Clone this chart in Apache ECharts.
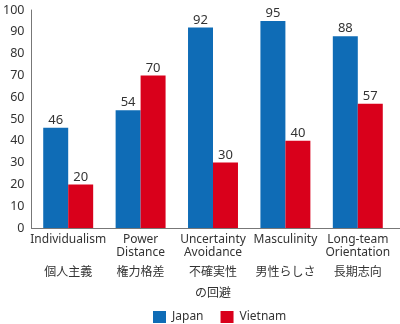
<!DOCTYPE html>
<html><head><meta charset="utf-8">
<script src="https://cdn.jsdelivr.net/npm/echarts@6/dist/echarts.min.js"></script>
<style>html,body{margin:0;padding:0;background:#fff}#c{width:400px;height:324px}</style>
</head><body><div id="c"></div>
<script>
const categoriesEn = [["Individualism", " "], ["Power", "Distance"], ["Uncertainty", "Avoidance"], ["Masculinity", " "], ["Long-team", "Orientation"]];
const categoriesJa = [["個人主義"], ["権力格差"], ["不確実性", "の回避"], ["男性らしさ"], ["長期志向"]];
const japan = [46, 54, 92, 95, 88];
const vietnam = [20, 70, 30, 40, 57];
const yTicks = [0, 10, 20, 30, 40, 50, 60, 70, 80, 90, 100];

const FONT = '"Noto Sans","Noto Sans CJK JP",sans-serif';
const JFONT = '"Noto Sans CJK JP",sans-serif';
const cats = categoriesEn.map((e, i) => i);
function catLabel(i) {
  const en = categoriesEn[i], ja = categoriesJa[i];
  let s = '{e|' + en[0] + '}\n{e|' + en[1] + '}\n{j|' + ja[0] + '}';
  if (ja[1]) s += '\n{j2|' + ja[1] + '}';
  return s;
}
const chart = echarts.init(document.getElementById('c'));
chart.setOption({
  animation: false,
  textStyle: { fontFamily: FONT },
  legend: {
    left: 153, top: 311, padding: 0, itemWidth: 13, itemHeight: 12, itemGap: 17,
    icon: 'rect',
    textStyle: { fontSize: 12, color: '#333', fontFamily: FONT, padding: [0, 0, 0, 1] },
    data: ['Japan', 'Vietnam']
  },
  grid: [
    { left: 32, right: 6, top: 10, bottom: 96 },
    { left: 27, right: 0, top: 10, bottom: 96 }
  ],
  xAxis: [
    { type: 'category', gridIndex: 0, data: cats,
      axisLine: { show: false }, axisTick: { show: false },
      axisLabel: { interval: 0, margin: 5, color: '#333', formatter: (v, i) => catLabel(i),
        rich: {
          e: { fontSize: 12, lineHeight: 13, color: '#333', fontFamily: FONT },
          j: { fontSize: 12, lineHeight: 25, color: '#333', fontFamily: JFONT },
          j2: { fontSize: 12, lineHeight: 16, color: '#333', fontFamily: JFONT }
        } } },
    { type: 'category', gridIndex: 1, data: cats,
      axisLine: { lineStyle: { color: '#777', width: 1 } }, axisTick: { show: false },
      axisLabel: { show: false } }
  ],
  yAxis: [
    { type: 'value', gridIndex: 0, min: 0, max: 100, interval: 10, show: false, splitLine: { show: false } },
    { type: 'value', gridIndex: 1, min: 0, max: 100, interval: 10,
      axisLine: { show: true, lineStyle: { color: '#777', width: 1 } }, axisTick: { show: false },
      splitLine: { show: false },
      axisLabel: { color: '#333', fontSize: 12.5, margin: 7, padding: [0, 0, 8, 0],
        formatter: v => yTicks.includes(v) ? String(v) : '' } }
  ],
  series: [
    { name: 'Japan', type: 'bar', xAxisIndex: 0, yAxisIndex: 0, data: japan,
      barGap: 0, barCategoryGap: '31%', itemStyle: { color: '#0f6cb6' },
      label: { show: true, position: 'top', distance: 1, color: '#333', fontSize: 13 } },
    { name: 'Vietnam', type: 'bar', xAxisIndex: 0, yAxisIndex: 0, data: vietnam,
      barGap: 0, barCategoryGap: '31%', itemStyle: { color: '#d9001b' },
      label: { show: true, position: 'top', distance: 1, color: '#333', fontSize: 13 } }
  ]
});
</script></body></html>
